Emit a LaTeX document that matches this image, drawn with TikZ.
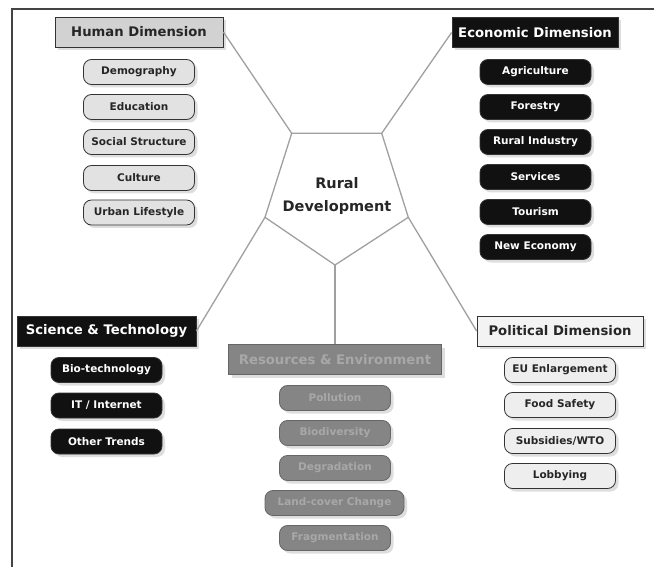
\documentclass[tikz,border=0pt]{standalone}
\usepackage{fontspec}
\setmainfont{DejaVu Sans}
\usetikzlibrary{shadows}
\definecolor{humhdr}{HTML}{D2D2D2}
\definecolor{humpill}{HTML}{E2E2E2}
\definecolor{ecofill}{HTML}{111111}
\definecolor{resfill}{HTML}{858585}
\definecolor{restext}{HTML}{A8A8A8}
\definecolor{polhdr}{HTML}{F3F3F3}
\definecolor{polpill}{HTML}{EEEEEE}
\definecolor{linkgray}{HTML}{A0A0A0}
\definecolor{framegray}{HTML}{444444}
\begin{document}
\begin{tikzpicture}[x=1pt,y=-1pt,
  shad/.style={drop shadow={shadow xshift=3pt,shadow yshift=-3pt,fill=black!25,opacity=0.5}},
  hdr/.style={draw=black!80,line width=0.8pt,minimum height=30pt,inner sep=0pt,
    font=\bfseries\fontsize{13.2}{15}\selectfont,shad},
  pill/.style={draw=black!80,line width=0.8pt,rounded corners=8pt,minimum width=111pt,
    minimum height=25pt,inner sep=0pt,font=\bfseries\fontsize{10.5}{12}\selectfont,shad},
  hum/.style={fill=humhdr,text=black!85},
  humP/.style={fill=humpill,text=black!85},
  eco/.style={fill=ecofill,text=white},
  res/.style={fill=resfill,text=restext,draw=black!60},
  pol/.style={fill=polhdr,text=black!85},
  polP/.style={fill=polpill,text=black!85},
  link/.style={draw=linkgray,line width=1.3pt}
]
\useasboundingbox (0,0) rectangle (654,567);
\fill[white] (0,0) rectangle (654,567);
\draw[framegray,line width=1.2pt] (12,567) -- (12,9) -- (654,9);

% central pentagon
\coordinate (ptl) at (291.7,133.3);
\coordinate (ptr) at (381.7,133.3);
\coordinate (pr) at (408.3,217.3);
\coordinate (pb) at (335,265);
\coordinate (pl) at (265,217.3);
\draw[link,line join=round] (ptl) -- (ptr) -- (pr) -- (pb) -- (pl) -- cycle;
\node[font=\bfseries\fontsize{14.5}{23}\selectfont,align=center,text=black!85] (rd) at (337,196) {Rural\\Development};

% headers
\node[hdr,hum,minimum width=168pt] (hum) at (139,32) {Human Dimension};
\node[hdr,eco,minimum width=166pt] (eco) at (535,32.5) {Economic Dimension};
\node[hdr,eco,minimum width=179pt] (sci) at (106.5,331) {Science \& Technology};
\node[hdr,res,minimum width=213pt] (res) at (335,359.5) {Resources \& Environment};
\node[hdr,pol,minimum width=166pt] (pol) at (560,331) {Political Dimension};

% connectors
\draw[link] (ptl) -- (hum.east);
\draw[link] (ptr) -- (eco.west);
\draw[link] (pl) -- (sci.east);
\draw[link] (pb) -- (res.north);
\draw[link] (pr) -- (pol.west);

% human items
\node[pill,humP] (h1) at (139,72) {Demography};
\node[pill,humP] (h2) at (139,107) {Education};
\node[pill,humP] (h3) at (139,142) {Social Structure};
\node[pill,humP] (h4) at (139,178) {Culture};
\node[pill,humP] (h5) at (139,212.5) {Urban Lifestyle};

% economic items
\node[pill,eco] (e1) at (535.5,72) {Agriculture};
\node[pill,eco] (e2) at (535.5,107) {Forestry};
\node[pill,eco] (e3) at (535.5,142) {Rural Industry};
\node[pill,eco] (e4) at (535.5,177) {Services};
\node[pill,eco] (e5) at (535.5,212) {Tourism};
\node[pill,eco] (e6) at (535.5,247) {New Economy};

% science items
\node[pill,eco] (s1) at (106.5,370) {Bio-technology};
\node[pill,eco] (s2) at (106.5,405.5) {IT / Internet};
\node[pill,eco] (s3) at (106.5,441.5) {Other Trends};

% resources items
\node[pill,res] (r1) at (335,398) {Pollution};
\node[pill,res] (r2) at (335,433) {Biodiversity};
\node[pill,res] (r3) at (335,468) {Degradation};
\node[pill,res,minimum width=139pt] (r4) at (334.5,503) {Land-cover Change};
\node[pill,res] (r5) at (335,538) {Fragmentation};

% political items
\node[pill,polP] (p1) at (560,370) {EU Enlargement};
\node[pill,polP] (p2) at (560,405) {Food Safety};
\node[pill,polP] (p3) at (560,441) {Subsidies/WTO};
\node[pill,polP] (p4) at (560,476) {Lobbying};
\end{tikzpicture}
\end{document}
